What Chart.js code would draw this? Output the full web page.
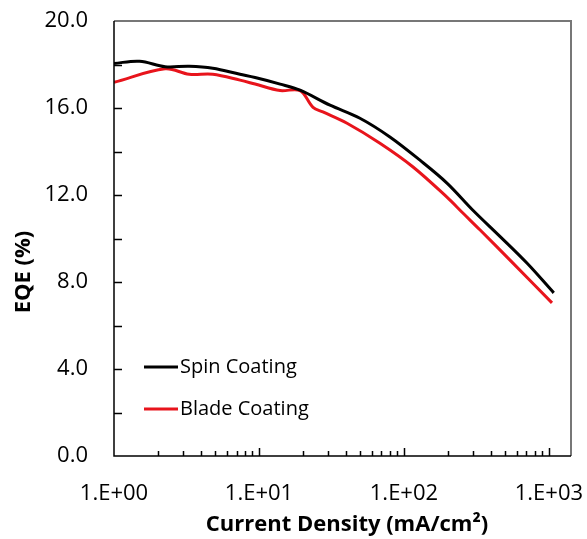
<!DOCTYPE html>
<html>
<head>
<meta charset="utf-8">
<script src="https://cdn.jsdelivr.net/npm/chart.js@4/dist/chart.umd.min.js"></script>
<style>
  html, body { margin: 0; padding: 0; background: #fff; }
  #wrap { width: 587px; height: 539px; }
</style>
</head>
<body>
<div id="wrap"><canvas id="eqe"></canvas></div>
<script>
// data
const spinJ   = [1, 1.5, 2.25, 3.3, 4.8, 7.4, 9.4, 14, 19.2, 30.9, 49.7, 80, 129, 198, 299, 459, 705, 1080];
const spinEQE = [18.05, 18.15, 17.9, 17.92, 17.83, 17.55, 17.4, 17.1, 16.82, 16.13, 15.53, 14.67, 13.6, 12.55, 11.3, 10.1, 8.87, 7.5];
const bladeJ   = [1, 2.25, 3.3, 4.8, 7.4, 9.4, 14, 19.2, 23.6, 27.6, 40.5, 68.3, 115, 198, 255, 334, 565, 1050];
const bladeEQE = [17.18, 17.8, 17.55, 17.55, 17.28, 17.1, 16.8, 16.8, 16.03, 15.82, 15.3, 14.38, 13.3, 11.9, 11.17, 10.4, 8.87, 7.04];
const xTicks = [1, 10, 100, 1000];
const yMin = 0, yMax = 20, yStep = 4;
const labels = ['Spin Coating', 'Blade Coating'];

const FONT = '"Open Sans", "Noto Sans", sans-serif';

function pts(xs, ys) {
  return xs.map((x, i) => ({x: x, y: ys[i]}));
}

// 안쪽 눈금 + 테두리 + 범례 + 축 제목
const decor = {
  id: 'decor',
  afterDraw(chart) {
    const ctx = chart.ctx;
    const a = chart.chartArea;
    const xs = chart.scales.x, ys = chart.scales.y;
    ctx.save();
    // plot border
    ctx.strokeStyle = '#777';
    ctx.lineWidth = 2;
    ctx.beginPath();
    ctx.moveTo(a.left, a.top); ctx.lineTo(a.right, a.top); ctx.lineTo(a.right, a.bottom);
    ctx.stroke();
    // axes
    ctx.strokeStyle = '#000';
    ctx.lineWidth = 1.5;
    ctx.beginPath();
    ctx.moveTo(a.left, a.top); ctx.lineTo(a.left, a.bottom); ctx.lineTo(a.right, a.bottom);
    ctx.stroke();
    // y ticks every 2
    ctx.beginPath();
    for (let v = yMin + 2; v < yMax; v += 2) {
      const py = Math.round(ys.getPixelForValue(v)) + 0.5;
      ctx.moveTo(a.left, py); ctx.lineTo(a.left + 8, py);
    }
    // x ticks, minor inside each decade
    for (let d = 1; d <= 1000; d *= 10) {
      for (let m = 1; m <= 9; m++) {
        const v = d * m;
        if (v === 1 || v > 1000) continue;
        const px = Math.round(xs.getPixelForValue(v)) + 0.5;
        const len = m === 1 ? 8 : 5;
        ctx.moveTo(px, a.bottom); ctx.lineTo(px, a.bottom - len);
      }
    }
    ctx.stroke();
    // legend
    ctx.font = '20px ' + FONT;
    ctx.textBaseline = 'middle';
    ctx.textAlign = 'left';
    chart.data.datasets.forEach((ds, i) => {
      const ly = 367 + i * 42;
      ctx.strokeStyle = ds.borderColor;
      ctx.lineWidth = 3;
      ctx.beginPath();
      ctx.moveTo(144, ly); ctx.lineTo(178, ly);
      ctx.stroke();
      ctx.fillStyle = '#000';
      ctx.fillText(ds.label, 180, ly);
    });
    // axis titles
    ctx.font = 'bold 22px ' + FONT;
    ctx.textAlign = 'center';
    ctx.fillText('Current Density (mA/cm\u00B2)', 347, 525);
    ctx.translate(24, 272);
    ctx.rotate(-Math.PI / 2);
    ctx.fillText('EQE (%)', 0, 0);
    ctx.restore();
  }
};

function noPad(s) {
  s.paddingLeft = 0; s.paddingRight = 0; s.paddingTop = 0; s.paddingBottom = 0;
}

new Chart(document.getElementById('eqe'), {
  type: 'line',
  data: {
    datasets: [
      {
        label: labels[0],
        data: pts(spinJ, spinEQE),
        borderColor: '#000000',
        borderWidth: 3,
        pointRadius: 0,
        tension: 0.35,
        fill: false
      },
      {
        label: labels[1],
        data: pts(bladeJ, bladeEQE),
        borderColor: '#e8141c',
        borderWidth: 3,
        pointRadius: 0,
        tension: 0.35,
        fill: false
      }
    ]
  },
  options: {
    responsive: true,
    maintainAspectRatio: false,
    animation: false,
    layout: { padding: { left: 0, top: 21, right: 16, bottom: 0 } },
    scales: {
      x: {
        type: 'logarithmic',
        min: 1,
        max: 1420,
        afterBuildTicks: s => { s.ticks = xTicks.map(v => ({value: v})); },
        afterFit: s => { s.height = 83; noPad(s); },
        grid: { display: false, drawTicks: false },
        border: { display: false },
        ticks: {
          color: '#000',
          padding: 25,
          maxRotation: 0,
          autoSkip: false,
          font: { family: FONT, size: 22 },
          callback: v => '1.E+' + String(Math.round(Math.log10(v))).padStart(2, '0')
        }
      },
      y: {
        min: yMin,
        max: yMax,
        afterFit: s => { s.width = 114; noPad(s); },
        grid: { display: false, drawTicks: false },
        border: { display: false },
        ticks: {
          stepSize: yStep,
          color: '#000',
          padding: 26,
          font: { family: FONT, size: 22 },
          callback: v => v.toFixed(1)
        }
      }
    },
    plugins: {
      legend: { display: false },
      tooltip: { enabled: false }
    }
  },
  plugins: [decor]
});
</script>
</body>
</html>
